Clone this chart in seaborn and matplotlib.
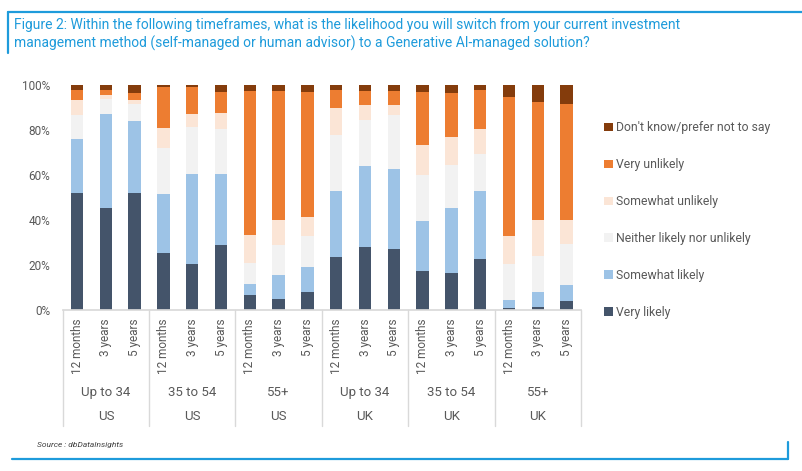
import numpy as np
import pandas as pd
import matplotlib
matplotlib.use("Agg")
import matplotlib.pyplot as plt
import seaborn as sns

# ---- data (% of respondents) ----
timeframes = ["12 months", "3 years", "5 years"]
age_groups = ["Up to 34", "35 to 54", "55+", "Up to 34", "35 to 54", "55+"]
countries = ["US", "US", "US", "UK", "UK", "UK"]

responses = ["Don't know/prefer not to say", "Very unlikely", "Somewhat unlikely",
             "Neither likely nor unlikely", "Somewhat likely", "Very likely"]

very_likely = [52, 45.5, 52, 25.5, 20.5, 29, 6.5, 5, 8, 23.5, 28, 27, 17.5, 16.5, 22.5, 1, 1.5, 4]
somewhat_likely = [24, 41.5, 32, 26, 40, 31.5, 5, 10.5, 11, 29.5, 36, 35.5, 22, 29, 30.5, 3.5, 6.5, 7]
neither = [10.5, 7, 7.5, 20.5, 21, 20, 9.5, 13.5, 14, 25, 20.5, 24, 20.5, 19, 16.5, 16, 16, 18.5]
somewhat_unlikely = [7, 1.5, 2, 9, 5.5, 7, 12.5, 11, 8.5, 12, 6.5, 4.5, 13.5, 12.5, 11, 12.5, 16, 10.5]
very_unlikely = [4.5, 2.5, 3, 18, 12, 9.5, 64, 57.5, 55.5, 8, 6.5, 6.5, 23.5, 19.5, 17.5, 61.5, 52.5, 51.5]
dont_know = [2, 2, 3.5, 1, 1, 3, 2.5, 2.5, 3, 2, 2.5, 2.5, 3, 3.5, 2, 5.5, 7.5, 8.5]

colors = ["#843C0C", "#ED7D31", "#FBE5D6", "#F2F2F2", "#9DC3E6", "#44546A"]

series = [dont_know, very_unlikely, somewhat_unlikely, neither, somewhat_likely, very_likely]
n_bars = len(very_likely)
rows = []
for resp, vals in zip(responses, series):
    for i, v in enumerate(vals):
        rows.append({"pos": i, "response": resp, "value": v / 100})
df = pd.DataFrame(rows)

BLUE = "#1E9BDB"
GREY = "#595959"
LINE = "#D9D9D9"
sns.set_theme(style="white")
plt.rcParams["font.family"] = ["Roboto", "DejaVu Sans"]

fig = plt.figure(figsize=(8.03, 4.71), dpi=100)
ax = fig.add_axes([62.7 / 803, 1 - 310 / 471, (581 - 62.7) / 803, 225 / 471])

# stacked bars (last hue level ends up at the bottom)
sns.histplot(data=df, x="pos", hue="response", weights="value", hue_order=responses,
             multiple="stack", discrete=True, shrink=0.43, palette=colors,
             alpha=1, linewidth=0, edgecolor="none", ax=ax)

ax.set_xlim(-0.5, n_bars - 0.5)
ax.set_ylim(0, 1)
yt = np.arange(0, 1.01, 0.2)
ax.set_yticks(yt)
ax.set_yticklabels([f"{int(round(t * 100))}%" for t in yt], color=GREY, fontsize=8.5)
ax.tick_params(axis="y", length=0, pad=9)
ax.set_xticks(range(n_bars))
ax.set_xticklabels(timeframes * len(age_groups), rotation=90, color=GREY, fontsize=8.5)
ax.tick_params(axis="x", length=0, pad=6)
ax.set_xlabel("")
ax.set_ylabel("")
for s in ["left", "right", "top"]:
    ax.spines[s].set_visible(False)
ax.spines["bottom"].set_color(LINE)

# group separators and two-level category labels
trans = ax.get_xaxis_transform()
n_t = len(timeframes)
for g in range(len(age_groups) + 1):
    xg = g * n_t - 0.5
    ax.plot([xg, xg], [0, -116 / 225], transform=trans, color=LINE, lw=1, clip_on=False)
for g, (age, ctry) in enumerate(zip(age_groups, countries)):
    xc = g * n_t + (n_t - 1) / 2
    ax.text(xc, -83 / 225, age, transform=trans, ha="center", va="center", color=GREY, fontsize=9.5)
    ax.text(xc, -107 / 225, ctry, transform=trans, ha="center", va="center", color=GREY, fontsize=9.5)

sns.move_legend(ax, loc="center left", bbox_to_anchor=(593 / 803, 1 - 220 / 471),
                bbox_transform=fig.transFigure, frameon=False, title=None,
                fontsize=8.8, labelspacing=1.95, handlelength=0.7, handleheight=0.7,
                handletextpad=0.25, labelcolor=GREY)

# title box lines
fig.add_artist(plt.Line2D([8 / 803, 1], [1 - 12 / 471] * 2, color=BLUE, lw=1.6))
fig.add_artist(plt.Line2D([8 / 803] * 2, [1 - 12 / 471, 1 - 53 / 471], color=BLUE, lw=1.6))
fig.text(14 / 803, 1 - 25 / 471, "Figure 2: Within the following timeframes, what is the likelihood you will switch from your current investment",
         color=BLUE, fontsize=10, va="center")
fig.text(14 / 803, 1 - 43 / 471, "management method (self-managed or human advisor) to a Generative AI-managed solution?",
         color=BLUE, fontsize=10, va="center")

# source and bottom bracket
fig.text(37 / 803, 1 - 445 / 471, "Source : dbDataInsights", style="italic", color="#404040", fontsize=6, va="center")
fig.add_artist(plt.Line2D([12 / 803, 788 / 803], [1 - 459 / 471] * 2, color=BLUE, lw=1.6))
fig.add_artist(plt.Line2D([788 / 803] * 2, [1 - 459 / 471, 1 - 442 / 471], color=BLUE, lw=1.6))

fig.savefig("out.png", dpi=100)
